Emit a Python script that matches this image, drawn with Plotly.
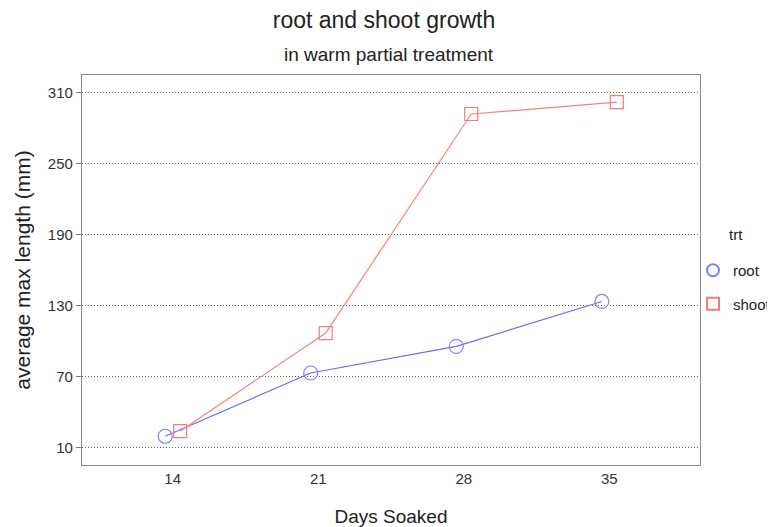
import plotly.graph_objects as go

days = [14, 21, 28, 35]
root = [19.5, 73, 95.5, 133.5]
shoot = [23.8, 106.8, 292, 302]
series_names = ["root", "shoot"]
y_ticks = [10, 70, 130, 190, 250, 310]

DODGE = 0.36
OFF = 8                      # page body margin in the browser
PAGE_W, PAGE_H = 775, 527
W, H = PAGE_W - OFF, PAGE_H - OFF
# plot frame in page pixels
PX0, PX1, PY0, PY1 = 82, 700, 75, 465
L, R, T, B = PX0 - OFF, W - (PX1 - OFF), PY0 - OFF, H - (PY1 - OFF)
PW, PH = W - L - R, H - T - B


def paper_x(px):
    return (px - OFF - L) / PW


def paper_y(py):
    return (H - B - (py - OFF)) / PH


root_line, root_mark = "#6b6bf0", "#8080ff"
shoot_line, shoot_mark = "#f88080", "#f27c7c"

fig = go.Figure()
fig.add_trace(go.Scatter(
    x=[d - DODGE for d in days], y=root, name=series_names[0], mode="lines+markers",
    showlegend=False,
    line=dict(color=root_line, width=1.2),
    marker=dict(symbol="circle-open", size=14, color=root_mark, line=dict(width=1.2)),
))
fig.add_trace(go.Scatter(
    x=[d + DODGE for d in days], y=shoot, name=series_names[1], mode="lines+markers",
    showlegend=False,
    line=dict(color=shoot_line, width=1.2),
    marker=dict(symbol="square-open", size=13, color=shoot_mark, line=dict(width=1.2)),
))
# legend-only entries (markers only, like the reference key)
fig.add_trace(go.Scatter(x=[None], y=[None], name=series_names[0], mode="markers",
                         legendgroup="a",
                         marker=dict(symbol="circle-open", size=14, color=root_mark, line=dict(width=1.2))))
fig.add_trace(go.Scatter(x=[None], y=[None], name=series_names[1], mode="markers",
                         legendgroup="b",
                         marker=dict(symbol="square-open", size=13, color=shoot_mark, line=dict(width=1.2))))

fig.update_layout(
    width=W, height=H,
    margin=dict(l=L, r=R, t=T, b=B, autoexpand=False),
    paper_bgcolor="white", plot_bgcolor="white",
    font=dict(family="Liberation Sans, Arial, sans-serif", color="#222"),
    title=dict(text="root and shoot growth", x=(384 - OFF) / W, xanchor="center",
               yref="container", y=1 - (20 - OFF) / H, yanchor="middle",
               font=dict(size=23, color="#222")),
    showlegend=True,
    legend=dict(font=dict(size=15, color="#222"),
                xref="container", yref="container",
                x=(693 - OFF) / W, xanchor="left", y=1 - (254 - OFF) / H, yanchor="top",
                traceorder="grouped", tracegroupgap=11,
                itemsizing="constant", bgcolor="rgba(0,0,0,0)"),
    xaxis=dict(range=[9.64, 39.36], tickvals=days, ticktext=[str(d) for d in days],
               showgrid=False, zeroline=False, showline=True, mirror=True, automargin=False,
               linecolor="#8a8a8a", linewidth=1.2, ticks="",
               tickfont=dict(size=15, color="#333"),
               title=dict(text="Days Soaked", font=dict(size=19, color="#222"), standoff=24)),
    yaxis=dict(range=[-4.8, 325], tickvals=y_ticks, ticktext=[str(v) for v in y_ticks],
               showgrid=True, gridcolor="#666", griddash="1px,2px", gridwidth=1,
               zeroline=False, showline=True, mirror=True, automargin=False,
               linecolor="#8a8a8a", linewidth=1.2, ticks="outside", ticklen=5,
               tickcolor="#777", tickfont=dict(size=15, color="#333"),
               title=dict(text="average max length (mm)", font=dict(size=21, color="#222"), standoff=11)),
    annotations=[
        dict(text="in warm partial treatment", xref="paper", yref="paper",
             x=paper_x(389), y=paper_y(55), xanchor="center", yanchor="middle",
             showarrow=False, font=dict(size=19, color="#222")),
        dict(text="trt", xref="paper", yref="paper",
             x=paper_x(727), y=paper_y(234),
             xanchor="left", yanchor="middle", showarrow=False,
             font=dict(size=15, color="#222")),
    ],
)

fig.write_html("out.html")
